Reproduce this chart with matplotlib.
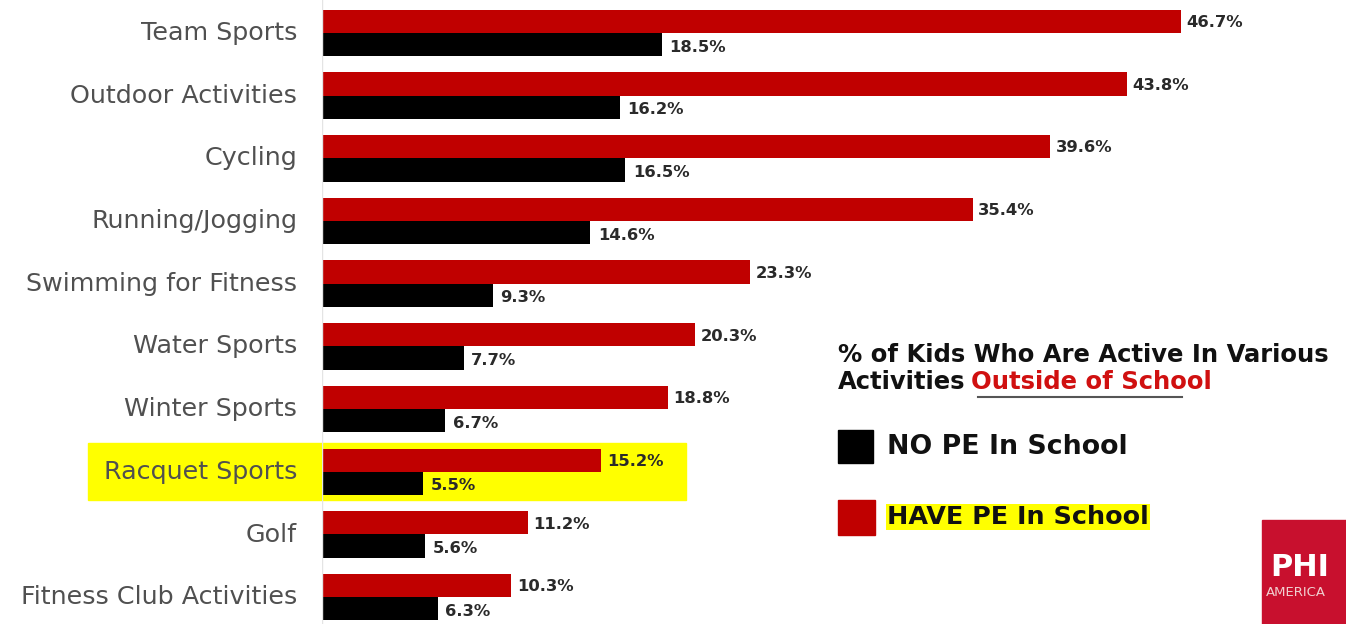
import matplotlib.pyplot as plt
from matplotlib.patches import Rectangle

activities = ['Team Sports', 'Outdoor Activities', 'Cycling', 'Running/Jogging',
              'Swimming for Fitness', 'Water Sports', 'Winter Sports',
              'Racquet Sports', 'Golf', 'Fitness Club Activities']
have_pe = [46.7, 43.8, 39.6, 35.4, 23.3, 20.3, 18.8, 15.2, 11.2, 10.3]
no_pe = [18.5, 16.2, 16.5, 14.6, 9.3, 7.7, 6.7, 5.5, 5.6, 6.3]

red = '#c00000'
plt.rcParams['font.family'] = ['DejaVu Sans']

fig = plt.figure(figsize=(13.46, 6.24), dpi=100)
ax = fig.add_axes([322 / 1346, 0, 1 - 322 / 1346, 1])

h = 0.37
ys = list(range(len(activities)))
ax.barh([y - h / 2 for y in ys], have_pe, height=h, color=red)
ax.barh([y + h / 2 for y in ys], no_pe, height=h, color='black')

for y, r, b in zip(ys, have_pe, no_pe):
    ax.text(r + 0.3, y - h / 2 + 0.02, f'{r}%', fontsize=11.8, fontweight='bold',
            color='#2a2a2a', va='center', ha='left')
    ax.text(b + 0.4, y + h / 2 + 0.04, f'{b}%', fontsize=11.8, fontweight='bold',
            color='#2a2a2a', va='center', ha='left')

ax.set_xlim(0, 55.7)
ax.set_ylim(9.43, -0.526)
ax.axis('off')
ax.axvline(0, color='#e4e4e4', lw=1)

# category labels on the left
for y, name in zip(ys, activities):
    fig.text(297 / 1346, 1 - (33 + 62.7 * y) / 624, name, fontsize=18.3,
             color='#505050', ha='right', va='center')

# yellow highlight behind Racquet Sports
fig.patches.append(Rectangle((88 / 1346, 1 - 500 / 624), (686 - 88) / 1346, 57 / 624,
                             transform=fig.transFigure, color='#ffff00', zorder=-1))

# legend / title block
fig.text(838 / 1346, 1 - 355 / 624, '% of Kids Who Are Active In Various',
         fontsize=17.5, fontweight='bold', color='#111111', va='center')
t = fig.text(838 / 1346, 1 - 382 / 624, 'Activities', fontsize=17.5,
             fontweight='bold', color='#111111', va='center')
ax.annotate('Outside of School', xy=(1, 0.5), xycoords=t, xytext=(4, 0),
            textcoords='offset points', fontsize=17.5, fontweight='bold',
            color='#d01010', va='center', ha='left', annotation_clip=False)
fig.add_artist(plt.Line2D([978 / 1346, 1182 / 1346], [1 - 397 / 624, 1 - 397 / 624],
                          color='#555555', lw=1.5))

fig.patches.append(Rectangle((838 / 1346, 1 - 463 / 624), 35 / 1346, 33 / 624,
                             transform=fig.transFigure, color='black'))
fig.text(887 / 1346, 1 - 447 / 624, 'NO PE In School', fontsize=19.3,
         fontweight='bold', color='#111111', va='center')
fig.patches.append(Rectangle((838 / 1346, 1 - 535 / 624), 37 / 1346, 35 / 624,
                             transform=fig.transFigure, color=red))
fig.text(887 / 1346, 1 - 517 / 624, 'HAVE PE In School', fontsize=18.3,
         fontweight='bold', color='#111111', va='center',
         bbox=dict(facecolor='#ffff00', edgecolor='none', pad=1))

# logo fragment at bottom right
fig.patches.append(Rectangle((1262 / 1346, 0), 84 / 1346, 104 / 624,
                             transform=fig.transFigure, color='#c8102e'))
fig.text(1270 / 1346, 1 - 568 / 624, 'PHI', fontsize=22, fontweight='bold',
         color='white', va='center')
fig.text(1266 / 1346, 1 - 593 / 624, 'AMERICA', fontsize=9.5, color='#f0d0d0',
         va='center')

fig.savefig('out.png', dpi=100)
